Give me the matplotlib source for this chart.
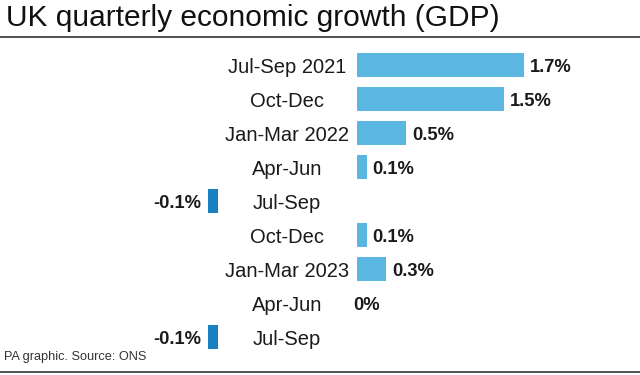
import matplotlib.pyplot as plt

# quarterly GDP growth, %
quarters = ["Jul-Sep 2021", "Oct-Dec", "Jan-Mar 2022", "Apr-Jun", "Jul-Sep",
            "Oct-Dec", "Jan-Mar 2023", "Apr-Jun", "Jul-Sep"]
growth = [1.7, 1.5, 0.5, 0.1, -0.1, 0.1, 0.3, 0.0, -0.1]
value_labels = ["1.7%", "1.5%", "0.5%", "0.1%", "-0.1%", "0.1%", "0.3%", "0%", "-0.1%"]

pos_col = "#5bb7e1"
neg_col = "#1b80bf"

W, H = 640, 375
fig = plt.figure(figsize=(W / 100, H / 100), dpi=100)
plt.rcParams['font.family'] = ['Liberation Sans', 'DejaVu Sans']

# axes over the whole figure; 98 px per percentage point, zero at x=357
ppu = 98.0
x0 = 357.0
row0, step = 65.0, 34.0
ax = fig.add_axes([0, 0, 1, 1])
ax.set_xlim(-x0 / ppu, (W - x0) / ppu)
ax.set_ylim((H - row0) / step, -row0 / step)
ax.axis("off")

label_x = (287 - x0) / ppu       # centre of category labels
neg_end = (218 - x0) / ppu       # negative bars sit left of the labels
dy = 0.07                        # nudge text down to line up with bar centres

for i, (q, v, lab) in enumerate(zip(quarters, growth, value_labels)):
    ax.text(label_x, i + dy, q, ha="center", va="center", fontsize=14.5, color="#1a1a1a")
    if v >= 0:
        ax.barh(i, v, left=0, height=0.7, color=pos_col)
        ax.text(v + 0.06 if v > 0 else -0.04, i + dy, lab, ha="left", va="center",
                fontsize=13.2, fontweight="bold", color="#1a1a1a")
    else:
        ax.barh(i, v, left=neg_end, height=0.7, color=neg_col)
        ax.text(neg_end + v - 0.07, i + dy, lab, ha="right", va="center",
                fontsize=13.2, fontweight="bold", color="#1a1a1a")

fig.text(6 / W, 1 - 18 / H, "UK quarterly economic growth (GDP)", ha="left", va="center",
         fontsize=21.5, color="#111111")
fig.add_artist(plt.Line2D([0, 1], [1 - 37 / H, 1 - 37 / H], color="#333333", lw=1.2))
fig.text(4 / W, 1 - 357 / H, "PA graphic. Source: ONS", ha="left", va="center",
         fontsize=9.2, color="#333333")
fig.add_artist(plt.Line2D([0, 1], [1 - 372 / H, 1 - 372 / H], color="#333333", lw=1.2))

fig.savefig("out.png", dpi=100, facecolor="white")
